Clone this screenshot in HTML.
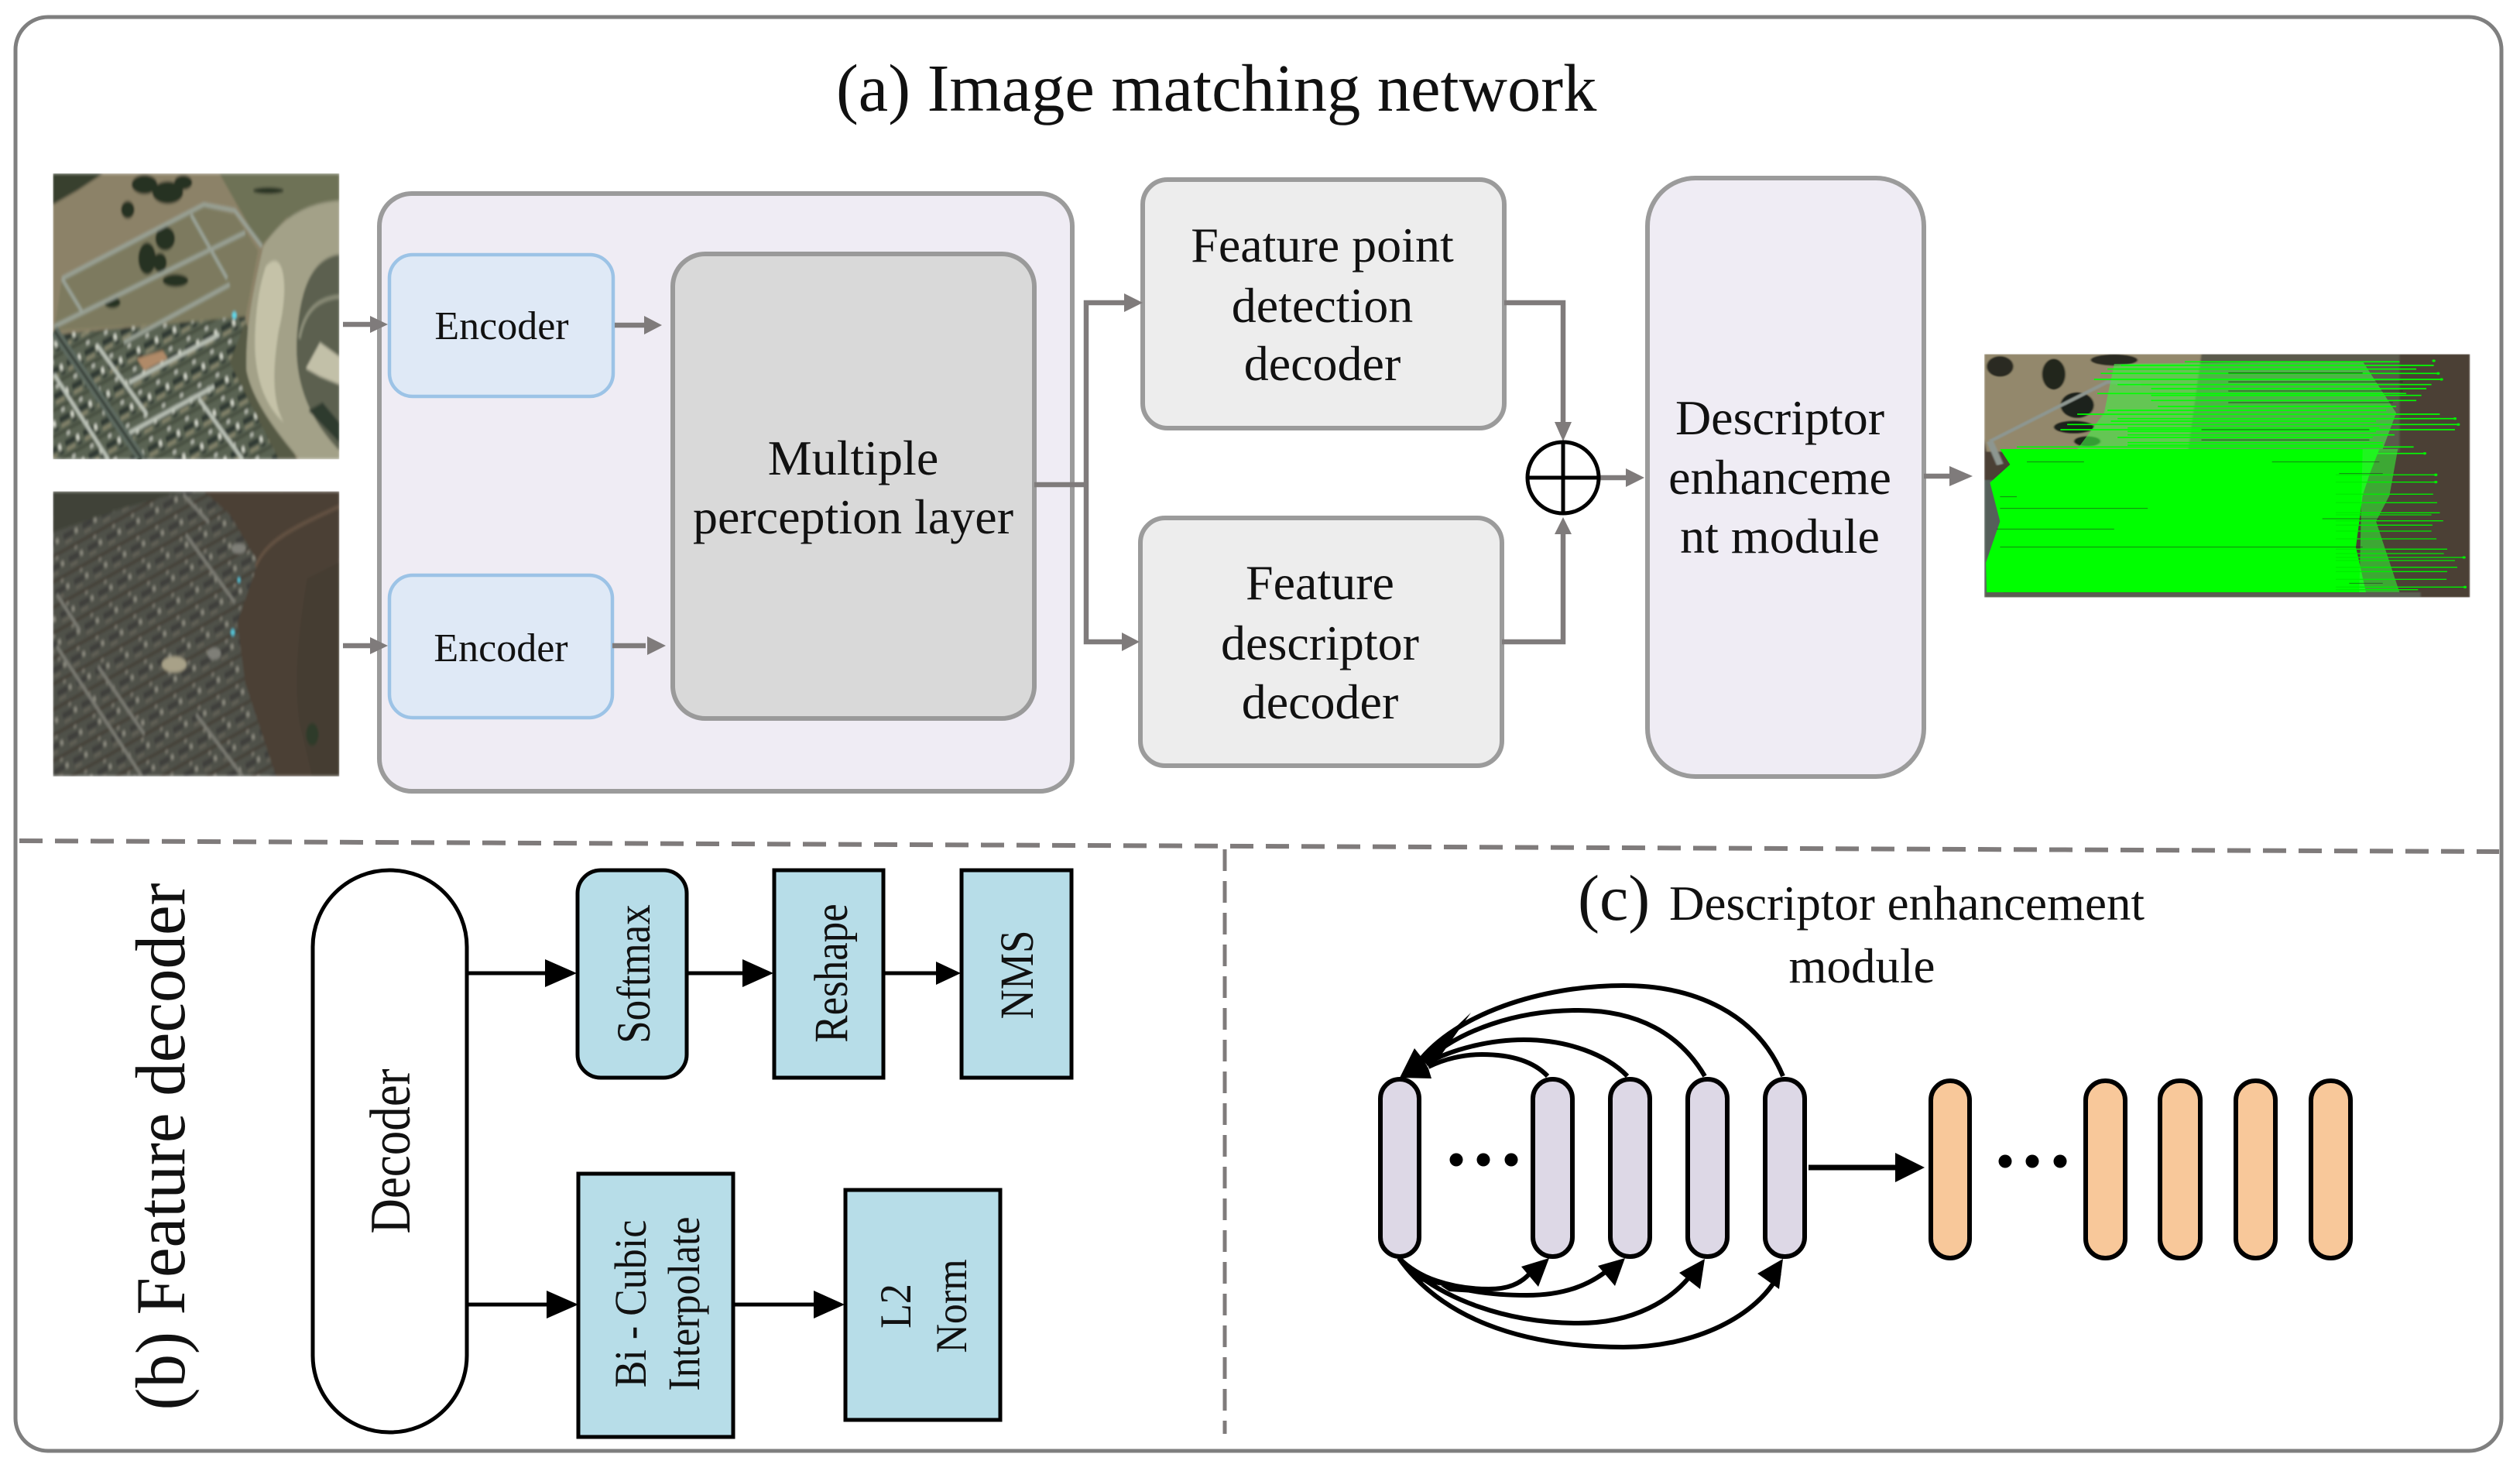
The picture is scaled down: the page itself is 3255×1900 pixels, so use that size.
<!DOCTYPE html>
<html><head><meta charset="utf-8"><style>
html,body{margin:0;padding:0;background:#fff;width:3255px;height:1900px;overflow:hidden}
svg{display:block}
text{font-family:"Liberation Serif","DejaVu Serif",serif;fill:#111}
</style></head><body>
<svg width="3255" height="1900" viewBox="0 0 3255 1900" xmlns="http://www.w3.org/2000/svg">
<defs>
<filter id="b1" x="0" y="0" width="100%" height="100%"><feGaussianBlur stdDeviation="4"/></filter>
<filter id="b2" x="-5%" y="-5%" width="110%" height="110%"><feGaussianBlur stdDeviation="2.2"/></filter>
<clipPath id="c1"><rect x="55" y="27" width="1110" height="715"/></clipPath>
<clipPath id="c2"><rect x="55" y="822" width="1110" height="713"/></clipPath>
<clipPath id="c3"><rect x="53" y="52" width="1447" height="943"/></clipPath>
<pattern id="h1" width="74" height="62" patternUnits="userSpaceOnUse" patternTransform="rotate(-20)">
<rect width="74" height="62" fill="#5a6353"/>
<rect x="4" y="6" width="40" height="15" fill="#2e3831"/>
<rect x="50" y="8" width="11" height="14" fill="#d6d9cd"/>
<rect x="6" y="26" width="34" height="7" fill="#8d8a70"/>
<rect x="0" y="41" width="74" height="7" fill="#3f4738"/>
<rect x="18" y="50" width="14" height="8" fill="#bfc3b8"/>
<rect x="50" y="27" width="18" height="8" fill="#2e3831"/>
</pattern>
<pattern id="h2" width="78" height="60" patternUnits="userSpaceOnUse" patternTransform="rotate(-20)">
<rect width="78" height="60" fill="#50514a"/>
<rect x="4" y="6" width="40" height="14" fill="#3d3e3b"/>
<rect x="50" y="8" width="12" height="12" fill="#8c8b80"/>
<rect x="6" y="26" width="28" height="6" fill="#68655a"/>
<rect x="0" y="42" width="78" height="6" fill="#40392f"/>
<rect x="34" y="50" width="12" height="7" fill="#7f7d72"/>
</pattern>
</defs>
<rect width="3255" height="1900" fill="#fff"/>

<!-- outer frame -->
<rect x="20" y="22" width="3211" height="1852" rx="42" ry="42" fill="#fff" stroke="#7f7f7f" stroke-width="5"/>

<!-- title -->
<text x="1080" y="143" font-size="86.5">(a) Image matching network</text>

<!-- satellite image 1 -->
<g transform="translate(50,210) scale(0.33333,0.5165)">
<g clip-path="url(#c1)"><g filter="url(#b1)">
<rect x="55" y="27" width="1110" height="715" fill="#8c8268"/>
<polygon points="700,27 1165,27 1165,110 960,140 860,210" fill="#6e7257"/>
<polygon points="55,27 250,27 150,70 55,105" fill="#39402f"/>
<polygon points="90,290 640,110 760,130 850,220 800,390 60,420" fill="#7d7a5f"/>
<polygon points="55,430 800,385 930,742 55,742" fill="url(#h1)"/>
<polygon points="800,400 860,520 1000,742 930,742 740,500" fill="#565a44"/>
<path d="M870,210 C950,130 1050,100 1165,95 L1165,230 C1050,240 1010,330 1000,440 C990,560 1060,650 1165,720 L1165,742 L1010,742 C930,680 830,600 805,520 C800,400 840,300 870,210Z" fill="#a3a188"/>
<path d="M880,260 C945,210 975,300 930,420 C905,520 905,600 950,650 C880,610 835,540 838,440 C842,350 860,300 880,260Z" fill="#c5c2a8"/>
<path d="M1165,230 C1050,240 1010,330 1000,440 C990,560 1060,650 1165,720Z" fill="#5b6150"/>
<polygon points="1035,515 1090,450 1165,485 1165,555 1090,535" fill="#c2c0a8"/>
<polygon points="1045,620 1100,600 1165,650 1165,700" fill="#2f3a2e"/>
<path d="M1010,440 C1030,370 1080,340 1165,335" stroke="#8b8d78" stroke-width="10" fill="none"/>
<g fill="#263023">
<ellipse cx="410" cy="55" rx="50" ry="24"/><ellipse cx="500" cy="75" rx="60" ry="28"/><ellipse cx="560" cy="50" rx="35" ry="18"/>
<ellipse cx="345" cy="118" rx="26" ry="22"/>
<ellipse cx="420" cy="240" rx="34" ry="40"/><ellipse cx="490" cy="190" rx="38" ry="30"/><ellipse cx="470" cy="250" rx="26" ry="24"/>
<ellipse cx="530" cy="295" rx="50" ry="16"/><ellipse cx="285" cy="350" rx="32" ry="14"/>
<ellipse cx="890" cy="70" rx="60" ry="8"/>
</g>
<g fill="none" stroke="#9aa296" stroke-width="11">
<path d="M90,290 L640,105 L760,120 L865,210"/>
<path d="M60,410 L800,175"/>
<path d="M90,290 L170,375"/>
<path d="M590,130 L730,290"/>
<path d="M740,305 L330,450"/>
</g>
<g fill="none" stroke="#bcc3b8" stroke-width="11">
<path d="M230,460 L420,630"/>
<path d="M340,680 L680,560"/>
<path d="M620,590 L790,742"/>
<path d="M350,550 L700,430"/>
<path d="M60,530 L270,742"/>
</g>
<path d="M60,420 L400,742" fill="none" stroke="#5d6a60" stroke-width="30"/>
<path d="M60,420 L400,742" fill="none" stroke="#2a322c" stroke-width="7"/>
<circle cx="758" cy="382" r="9" fill="#5fd8e8"/>
<polygon points="380,490 480,470 500,490 410,520" fill="#b08a68"/>
</g></g>
</g>

<!-- satellite image 2 -->
<g transform="translate(50,210) scale(0.33333,0.5165)">
<g clip-path="url(#c2)"><g filter="url(#b1)">
<rect x="55" y="822" width="1110" height="713" fill="url(#h2)"/>
<polygon points="55,822 560,822 300,870 55,925" fill="#3f4238"/>
<polygon points="640,822 1165,822 1165,1535 920,1535 800,1300 770,1150 850,1000 740,880" fill="#4c4135"/>
<path d="M1040,1040 C1000,1200 990,1300 1010,1400 L1060,1535 L1165,1535 L1165,1000Z" fill="#443d33"/>
<path d="M840,1010 C880,950 960,920 1165,860" stroke="#675545" stroke-width="8" fill="none"/>
<g fill="none" stroke="#7a7a72" stroke-width="10">
<path d="M570,930 L760,1100"/>
<path d="M70,1080 L160,1170"/>
<path d="M70,1210 L400,1535"/>
<path d="M230,1260 L410,1430"/>
<path d="M610,1380 L790,1535"/>
<path d="M560,830 L660,900"/>
</g>
<ellipse cx="525" cy="1255" rx="48" ry="20" fill="#a8a188"/>
<ellipse cx="775" cy="965" rx="28" ry="13" fill="#7f7f78"/>
<ellipse cx="680" cy="1228" rx="26" ry="15" fill="#7f7f78"/>
<ellipse cx="1060" cy="1430" rx="24" ry="28" fill="#2e3a2c"/>
<circle cx="752" cy="1175" r="8" fill="#55c8da"/>
<circle cx="776" cy="1044" r="6" fill="#55c8da"/>
</g></g>
</g>

<!-- container -->
<rect x="490" y="250" width="895" height="772" rx="42" ry="42" fill="#efecf4" stroke="#9b9b9b" stroke-width="6"/>
<rect x="503" y="329" width="289" height="183" rx="30" ry="30" fill="#dfe9f6" stroke="#9cc3e6" stroke-width="4.5"/>
<rect x="503" y="743" width="288" height="184" rx="30" ry="30" fill="#dfe9f6" stroke="#9cc3e6" stroke-width="4.5"/>
<rect x="869" y="328" width="467" height="600" rx="42" ry="42" fill="#d9d9d9" stroke="#9a9a9a" stroke-width="6"/>
<text x="648" y="438" font-size="52" text-anchor="middle">Encoder</text>
<text x="647" y="854" font-size="52" text-anchor="middle">Encoder</text>
<text x="1102" y="613" font-size="64" text-anchor="middle">Multiple</text>
<text x="1102" y="689" font-size="64" text-anchor="middle">perception layer</text>

<!-- decoders and module -->
<rect x="1476" y="232" width="467" height="321" rx="32" ry="32" fill="#ededed" stroke="#9b9b9b" stroke-width="6"/>
<rect x="1473" y="669" width="467" height="320" rx="32" ry="32" fill="#ededed" stroke="#9b9b9b" stroke-width="6"/>
<rect x="2128" y="230" width="357" height="773" rx="62" ry="62" fill="#efecf4" stroke="#9b9b9b" stroke-width="6"/>
<g font-size="64" text-anchor="middle">
<text x="1708" y="338">Feature point</text>
<text x="1708" y="416">detection</text>
<text x="1708" y="491">decoder</text>
<text x="1705" y="774">Feature</text>
<text x="1705" y="852">descriptor</text>
<text x="1705" y="928">decoder</text>
<text x="2299" y="561">Descriptor</text>
<text x="2299" y="638">enhanceme</text>
<text x="2299" y="714">nt module</text>
</g>

<!-- grey connectors -->
<g fill="none" stroke="#7f7b7b" stroke-width="6.5">
<path d="M443 419H480"/><path d="M794 420H834"/>
<path d="M443 834H480"/><path d="M791 834H834"/>
<path d="M1336 626H1403"/>
<path d="M1452 391H1403V829H1450"/>
<path d="M1943 391H2019V550"/>
<path d="M1940 829H2019V686"/>
<path d="M2065 617H2102"/>
<path d="M2485 615H2520"/>
</g>
<g fill="#7f7b7b">
<polygon points="501,419 478,408 478,430"/>
<polygon points="855,420 832,408 832,432"/>
<polygon points="501,834 478,823 478,845"/>
<polygon points="860,834 836,822 836,846"/>
<polygon points="1476,391 1452,379 1452,403"/>
<polygon points="1472,829 1449,817 1449,841"/>
<polygon points="2019,570 2008,545 2030,545"/>
<polygon points="2019,668 2008,690 2030,690"/>
<polygon points="2124,617 2100,605 2100,629"/>
<polygon points="2548,615 2518,602 2518,628"/>
</g>
<ellipse cx="2019" cy="617" rx="46" ry="46" fill="#fff" stroke="#000" stroke-width="5"/>
<path d="M1973 617H2065M2019 571V663" stroke="#000" stroke-width="5" fill="none"/>

<!-- result image -->
<g transform="translate(2540,440) scale(0.43365,0.33333)">
<g clip-path="url(#c3)">
<g filter="url(#b2)">
<rect x="53" y="52" width="1447" height="943" fill="#4c4036"/>
<polygon points="53,52 700,52 660,430 60,430 53,380" fill="#93886c"/>
<polygon points="700,52 1290,52 1290,430 660,430" fill="#5a5a4c"/>
<ellipse cx="100" cy="100" rx="40" ry="40" fill="#2a2c22"/>
<ellipse cx="260" cy="130" rx="35" ry="60" fill="#22281f"/>
<ellipse cx="440" cy="75" rx="70" ry="22" fill="#2a2c22"/>
<ellipse cx="330" cy="250" rx="50" ry="50" fill="#1d241c"/>
<ellipse cx="320" cy="335" rx="60" ry="25" fill="#1d241c"/>
<ellipse cx="360" cy="390" rx="40" ry="20" fill="#1d241c"/>
<path d="M70,390 L420,160 L520,170" stroke="#8d9690" stroke-width="12" fill="none"/>
<path d="M70,390 L100,480" stroke="#8d9690" stroke-width="20" fill="none"/>
<rect x="53" y="975" width="1300" height="20" fill="#5b5e52"/>
<polygon points="53,540 110,540 110,975 53,975" fill="#55605a"/>
</g>
<polygon points="440,90 1180,80 1280,280 1240,420 330,420 410,280" fill="#44f044" opacity=".6"/>
<g stroke="#00ff00" stroke-width="5" fill="none">
<path d="M460 96H1392"/><path d="M650 82H1290"/><path d="M420 110H1340"/><path d="M400 127H1405"/><path d="M380 150H1415"/><path d="M450 170H1385"/><path d="M550 186H1370"/><path d="M390 205H1310"/><path d="M550 212H1355"/><path d="M550 232H1340"/><path d="M570 255H1280"/><path d="M330 285H1410"/><path d="M450 302H1455"/><path d="M300 325H1465"/><path d="M280 345H1455"/><path d="M480 365H1275"/><path d="M480 395H1240"/><path d="M150 412H1332"/><path d="M120 437H1365"/>
<path d="M420 270H1250"/><path d="M430 312H1220"/><path d="M480 338H1230"/><path d="M480 352H1220"/><path d="M450 375H1210"/><path d="M480 405H1240"/>
</g>
<g stroke="#1a2a12" stroke-width="4" fill="none" opacity=".6">
<path d="M780 125H1180"/><path d="M780 160H1300"/><path d="M780 195H1300"/><path d="M780 240H1270"/><path d="M700 345H1200"/><path d="M700 385H1200"/>
</g>
<polygon points="100,420 1230,420 1200,520 1180,600 1160,800 1190,975 60,975 58,860 100,700 70,550 130,480" fill="#00ff00"/>
<polygon points="1180,420 1285,420 1260,600 1220,700 1290,975 1170,975" fill="#33ee33" opacity=".6"/>
<g stroke="#222" stroke-width="3" fill="none" opacity=".55">
<path d="M180,470H350"/><path d="M100,605H150"/><path d="M100,650H540"/><path d="M90,730H440"/><path d="M100,800H1180"/>
<path d="M1060,690H1230"/><path d="M1110,515H1240"/><path d="M910,470H1230"/><path d="M1140,940H1240"/>
</g>
<g stroke="#00ee00" stroke-width="4" fill="none">
<path d="M1100 520H1398"/><path d="M1100 548H1398"/><path d="M1100 595H1390"/><path d="M1100 628H1402"/><path d="M1100 667H1410"/><path d="M1100 675H1385"/><path d="M1100 698H1420"/><path d="M1100 715H1388"/><path d="M1100 738H1385"/><path d="M1100 768H1400"/><path d="M1100 808H1432"/><path d="M1100 825H1422"/><path d="M1100 840H1482"/><path d="M1100 852H1455"/><path d="M1100 878H1462"/><path d="M1100 895H1432"/><path d="M1100 925H1430"/><path d="M1100 955H1485"/><path d="M1100 965H1345"/>
</g>
<g fill="#00ee00">
<circle cx="1392" cy="78" r="5"/><circle cx="1405" cy="127" r="5"/><circle cx="1415" cy="150" r="5"/><circle cx="1455" cy="302" r="5"/><circle cx="1465" cy="325" r="5"/><circle cx="1365" cy="437" r="5"/><circle cx="1398" cy="520" r="5"/><circle cx="1398" cy="548" r="5"/><circle cx="1482" cy="840" r="5"/><circle cx="1485" cy="955" r="5"/>
</g>
</g>
</g>

<!-- dashed dividers -->
<path d="M25 1086L3228 1100" stroke="#7f7b7b" stroke-width="6" stroke-dasharray="30 16" fill="none"/>
<path d="M1582 1097V1852" stroke="#7f7b7b" stroke-width="5" stroke-dasharray="28 13" fill="none"/>

<!-- part b -->
<rect x="404" y="1124" width="199" height="726" rx="99" ry="99" fill="#fff" stroke="#000" stroke-width="5"/>
<rect x="746" y="1124" width="141" height="268" rx="30" ry="30" fill="#b7dde8" stroke="#000" stroke-width="5"/>
<rect x="1000" y="1124" width="141" height="268" fill="#b7dde8" stroke="#000" stroke-width="5"/>
<rect x="1242" y="1124" width="142" height="268" fill="#b7dde8" stroke="#000" stroke-width="5"/>
<rect x="747" y="1516" width="200" height="340" fill="#b7dde8" stroke="#000" stroke-width="5"/>
<rect x="1092" y="1537" width="200" height="297" fill="#b7dde8" stroke="#000" stroke-width="5"/>
<g stroke="#000" stroke-width="5" fill="none">
<path d="M604 1257H710"/><path d="M889 1257H965"/><path d="M1143 1257H1212"/>
<path d="M604 1685H712"/><path d="M949 1685H1055"/>
</g>
<g fill="#000">
<polygon points="745,1257 704,1239 704,1275"/>
<polygon points="999,1257 959,1239 959,1275"/>
<polygon points="1241,1257 1209,1242 1209,1272"/>
<polygon points="747,1685 706,1667 706,1703"/>
<polygon points="1091,1685 1051,1667 1051,1703"/>
</g>
<g text-anchor="middle">
<text transform="translate(238,1481) rotate(-90) scale(1,1.05)" font-size="87">(b) Feature decoder</text>
<text transform="translate(529,1487) rotate(-90) scale(1,1.18)" font-size="63">Decoder</text>
<text transform="translate(839,1258) rotate(-90) scale(1,1.15)" font-size="53">Softmax</text>
<text transform="translate(1094,1257) rotate(-90) scale(1,1.15)" font-size="53">Reshape</text>
<text transform="translate(1334,1259) rotate(-90) scale(1,1.15)" font-size="53">NMS</text>
<text transform="translate(834,1684) rotate(-90) scale(1,1.12)" font-size="52">Bi - Cubic</text>
<text transform="translate(903,1684) rotate(-90) scale(1,1.12)" font-size="52">Interpolate</text>
<text transform="translate(1176,1687) rotate(-90) scale(1,1.1)" font-size="52">L2</text>
<text transform="translate(1248,1687) rotate(-90) scale(1,1.1)" font-size="52">Norm</text>
</g>

<!-- part c -->
<text x="2038" y="1188" font-size="84">(c)</text>
<text x="2156" y="1188" font-size="63">Descriptor enhancement</text>
<text x="2405" y="1269" font-size="63" text-anchor="middle">module</text>

<g fill="none" stroke="#000" stroke-width="6">
<path d="M2303 1390C2270 1310 2190 1273 2097 1273C1990 1273 1880 1310 1832 1372"/>
<path d="M2202 1390C2170 1335 2115 1305 2039 1305C1960 1305 1885 1330 1840 1372"/>
<path d="M2102 1390C2075 1362 2025 1343 1968 1343C1925 1343 1875 1355 1842 1374"/>
<path d="M1999 1390C1980 1370 1950 1362 1914 1362C1890 1362 1865 1368 1845 1378"/>
<path d="M1807 1625C1860 1700 1960 1740 2097 1740C2190 1740 2270 1700 2298 1645"/>
<path d="M1807 1625C1860 1680 1950 1709 2039 1709C2110 1709 2160 1680 2188 1642"/>
<path d="M1807 1625C1840 1658 1900 1673 1972 1673C2020 1673 2055 1660 2082 1636"/>
<path d="M1807 1625C1830 1650 1875 1665 1923 1665C1945 1665 1965 1660 1980 1640"/>
</g>
<g fill="#000">
<polygon points="1808,1392 1827,1354 1838,1368 1845,1380 1849,1393"/>
<polygon points="1832,1372 1900,1308 1855,1372"/>
<polygon points="1807,1625 1872,1668 1905,1670 1835,1655"/>
<polygon points="2303,1626 2298,1665 2270,1645"/>
<polygon points="2202,1626 2196,1665 2169,1644"/>
<polygon points="2099,1625 2086,1661 2064,1635"/>
<polygon points="2001,1625 1987,1662 1965,1636"/>
</g>
<g fill="#ddd8e6" stroke="#000" stroke-width="6">
<rect x="1783" y="1394" width="50" height="229" rx="25" ry="25"/>
<rect x="1980" y="1394" width="51" height="229" rx="25" ry="25"/>
<rect x="2080" y="1394" width="51" height="229" rx="25" ry="25"/>
<rect x="2180" y="1394" width="51" height="229" rx="25" ry="25"/>
<rect x="2280" y="1394" width="51" height="229" rx="25" ry="25"/>
</g>
<g fill="#f8c89a" stroke="#000" stroke-width="6">
<rect x="2494" y="1396" width="50" height="229" rx="25" ry="25"/>
<rect x="2694" y="1396" width="51" height="229" rx="25" ry="25"/>
<rect x="2790" y="1396" width="52" height="229" rx="25" ry="25"/>
<rect x="2888" y="1396" width="51" height="229" rx="25" ry="25"/>
<rect x="2985" y="1396" width="51" height="229" rx="25" ry="25"/>
</g>
<path d="M2336 1508H2452" stroke="#000" stroke-width="7" fill="none"/>
<polygon points="2486,1508 2448,1489 2448,1527" fill="#000"/>
<g fill="#000">
<ellipse cx="1881" cy="1498" rx="8.5" ry="8.5"/><ellipse cx="1916" cy="1498" rx="8.5" ry="8.5"/><ellipse cx="1952" cy="1498" rx="8.5" ry="8.5"/>
<ellipse cx="2590" cy="1500" rx="8.5" ry="8.5"/><ellipse cx="2625" cy="1500" rx="8.5" ry="8.5"/><ellipse cx="2661" cy="1500" rx="8.5" ry="8.5"/>
</g>
</svg>
</body></html>
